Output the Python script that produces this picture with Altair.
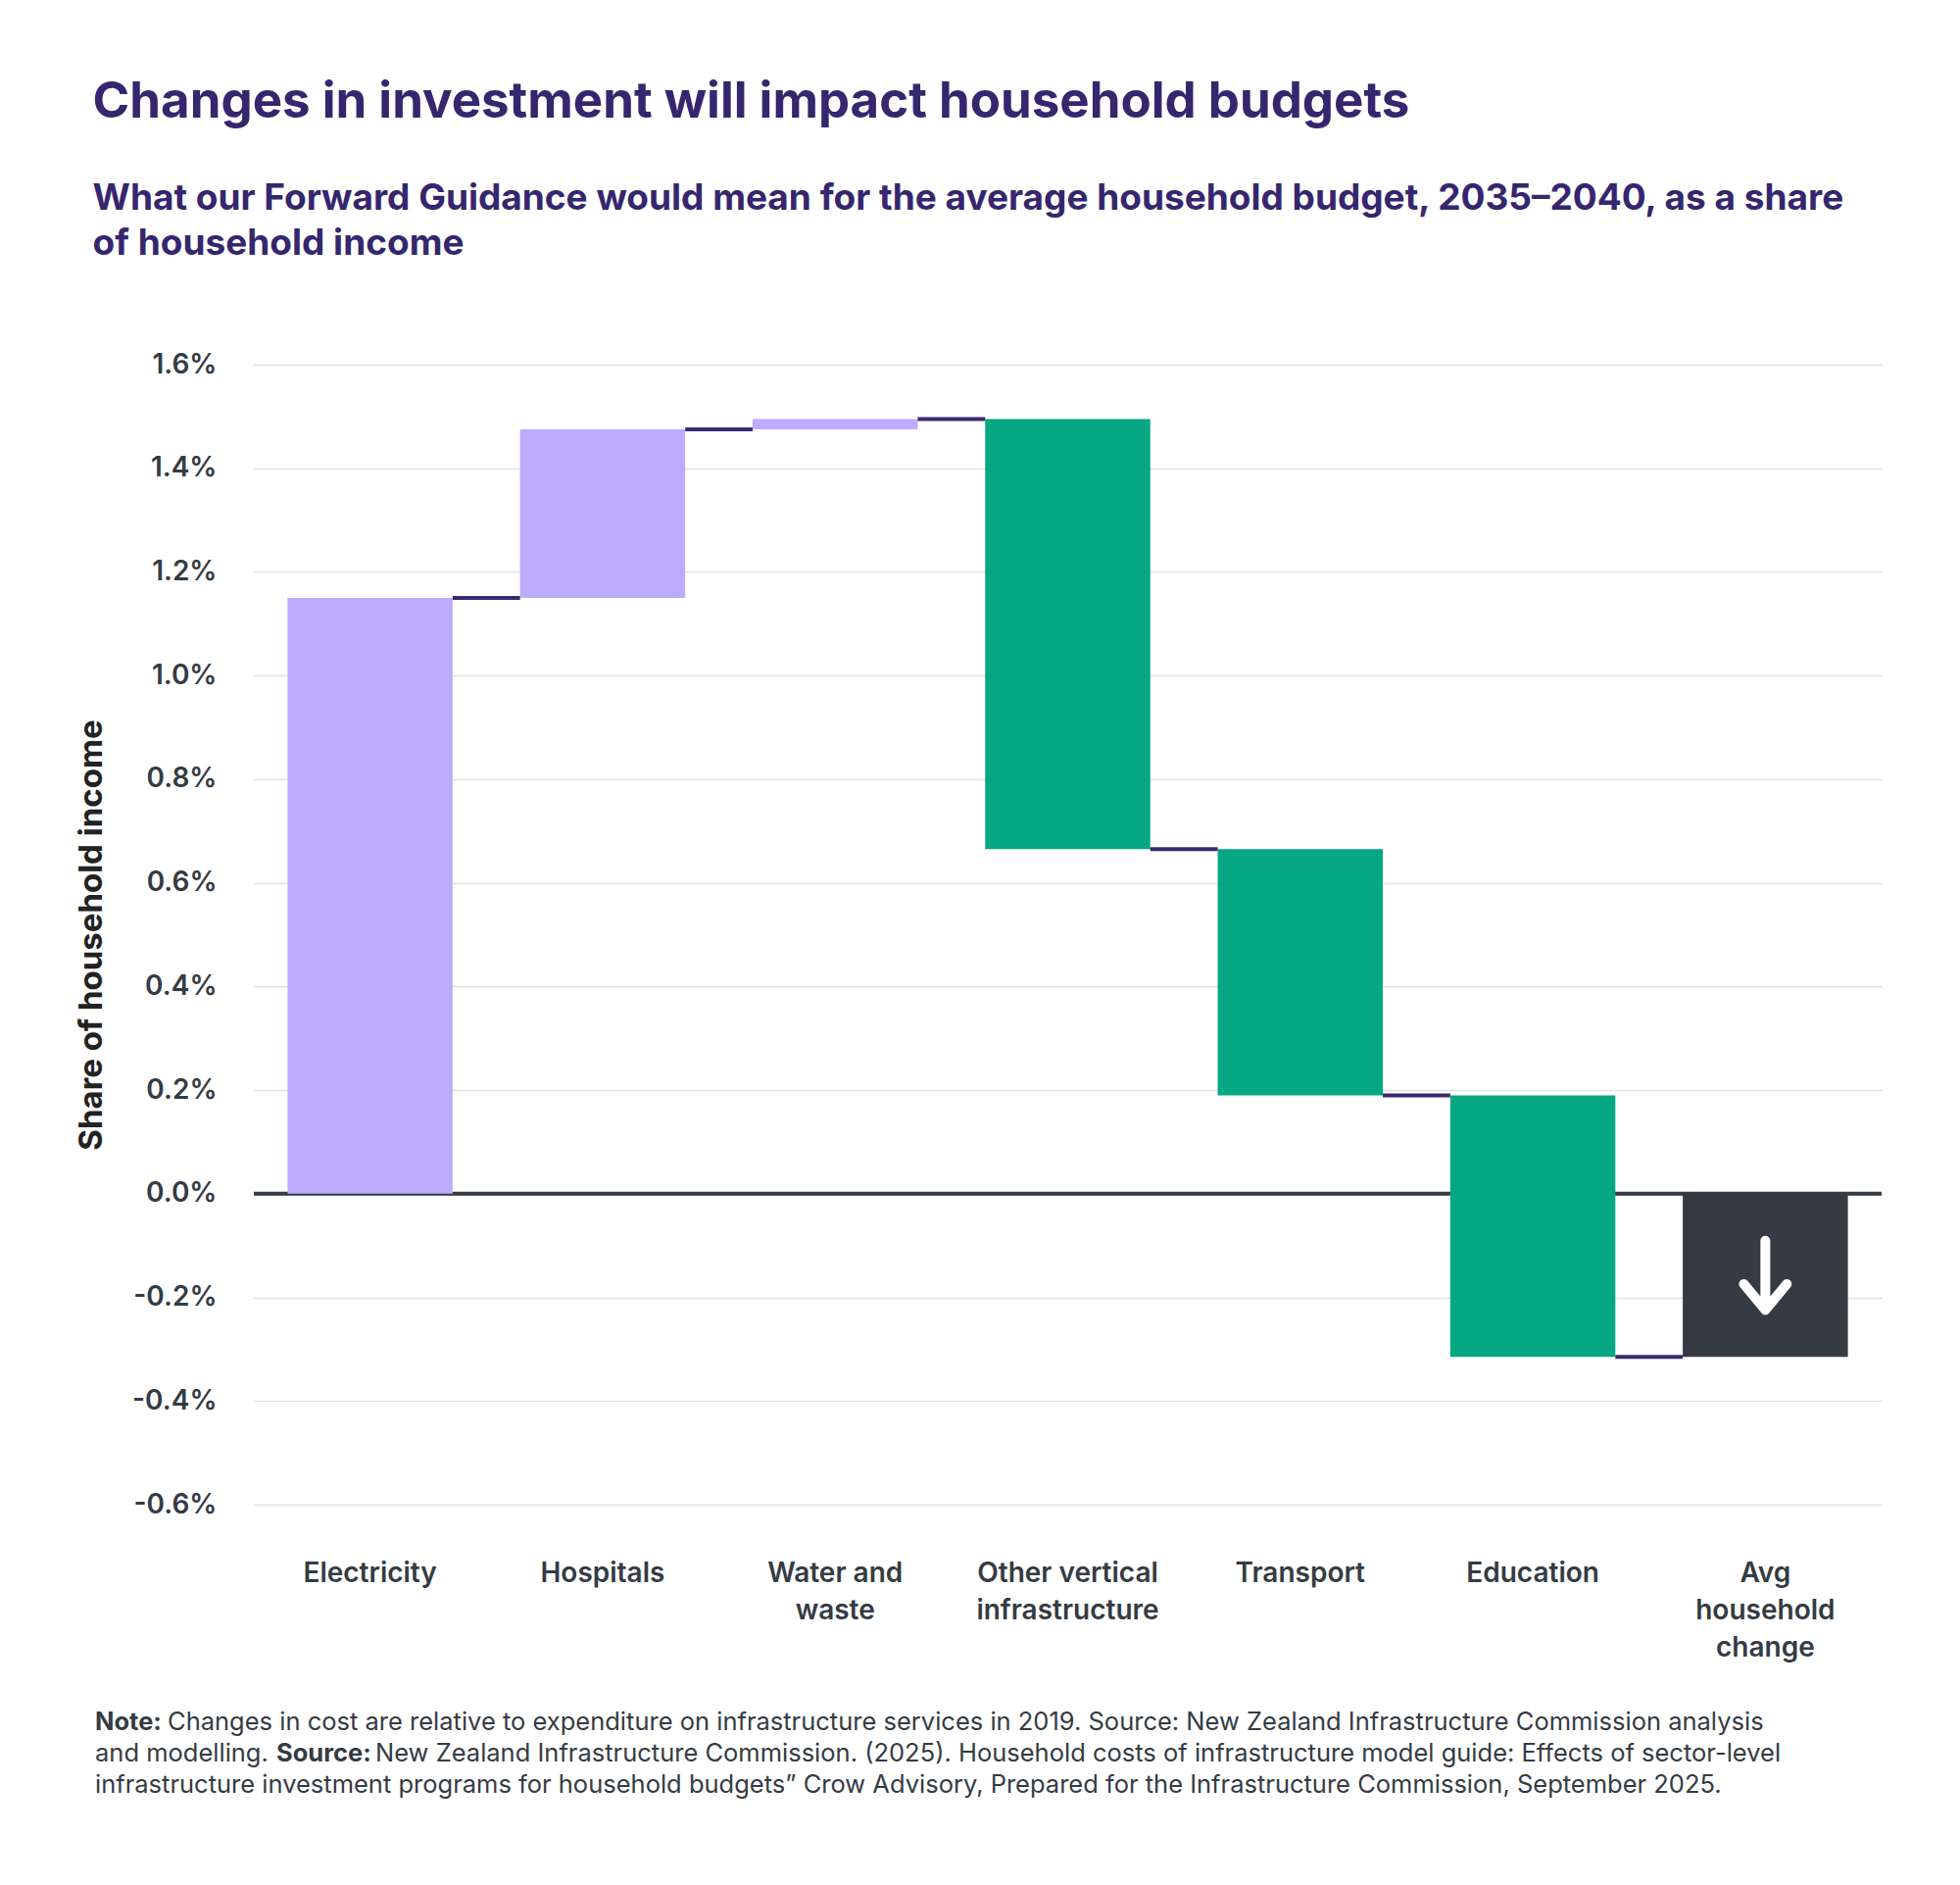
import altair as alt
import pandas as pd

# ---------------- data ----------------
categories = ["Electricity", "Hospitals", "Water and waste",
              "Other vertical infrastructure", "Transport", "Education",
              "Avg household change"]
label_lines = [["Electricity"], ["Hospitals"], ["Water and", "waste"],
               ["Other vertical", "infrastructure"], ["Transport"],
               ["Education"], ["Avg", "household", "change"]]
changes = [1.15, 0.325, 0.02, -0.83, -0.475, -0.505]   # % of household income
kinds = ["increase", "increase", "increase", "decrease", "decrease",
         "decrease", "total"]
y_ticks = [-0.6, -0.4, -0.2, 0.0, 0.2, 0.4, 0.6, 0.8, 1.0, 1.2, 1.4, 1.6]

title_text = "Changes in investment will impact household budgets"
subtitle_lines = ["What our Forward Guidance would mean for the average household budget, 2035\u20132040, as a share",
                  "of household income"]
y_title = "Share of household income"
note_parts = [
    # (line, text, bold)
    (0, "Note:", True),
    (0, "Changes in cost are relative to expenditure on infrastructure services in 2019. Source: New Zealand Infrastructure Commission analysis", False),
    (1, "and modelling.", False),
    (1, "Source:", True),
    (1, "New Zealand Infrastructure Commission. (2025). Household costs of infrastructure model guide: Effects of sector-level", False),
    (2, "infrastructure investment programs for household budgets\u201d Crow Advisory, Prepared for the Infrastructure Commission, September 2025.", False),
]

# ---------------- derived tables ----------------
rows = []
cum = 0.0
for c, d, k in zip(categories[:-1], changes, kinds[:-1]):
    start = cum
    cum = round(cum + d, 6)
    rows.append({"cat": c, "start": start, "end": cum, "kind": k})
total = cum
rows.append({"cat": categories[-1], "start": 0.0, "end": total, "kind": "total"})
bars_df = pd.DataFrame(rows)

conn_df = pd.DataFrame([{"cat": categories[i], "next": categories[i + 1],
                         "level": rows[i]["end"]} for i in range(len(categories) - 1)])
arrow_df = pd.DataFrame([{"cat": categories[-1], "mid": total / 2}])

label_map = "{" + ",".join(
    "'" + c + "':[" + ",".join("'" + s + "'" for s in l) + "]"
    for c, l in zip(categories, label_lines)) + "}"

FONT = "Inter"
PURPLE_TXT = "#35266e"
DARK = "#343b43"

W, H = 1661, 1163

x_enc = alt.X("cat:N", sort=categories,
              scale=alt.Scale(paddingInner=0.29, paddingOuter=0.145),
              axis=alt.Axis(title=None, labelAngle=0, domain=False, ticks=False,
                            labelPadding=56, labelFontSize=28, labelFontWeight=600,
                            labelColor=DARK, labelFont=FONT, labelLineHeight=38,
                            labelLimit=0, labelExpr=label_map + "[datum.value]"))
y_scale = alt.Scale(domain=[-0.6, 1.6], nice=False, zero=False)

bars = alt.Chart(bars_df).mark_bar().encode(
    x=x_enc,
    y=alt.Y("start:Q", scale=y_scale,
            axis=alt.Axis(values=y_ticks, title=y_title, domain=False, ticks=False,
                          grid=True, gridColor="#dfe2e6", gridWidth=1.5,
                          labelExpr="replace(format(datum.value, '.1f'), '\u2212', '-') + '%'",
                          labelFontSize=28, labelFontWeight=600, labelColor=DARK,
                          labelFont=FONT, labelPadding=38,
                          titleFont=FONT, titleFontSize=33, titleFontWeight="bold",
                          titleColor="#222222", titlePadding=24)),
    y2="end:Q",
    color=alt.Color("kind:N", legend=None,
                    scale=alt.Scale(domain=["increase", "decrease", "total"],
                                    range=["#bdabfd", "#04a782", "#343b43"])),
)

zero = alt.Chart(pd.DataFrame({"v": [0.0]})).mark_rule(
    color=DARK, strokeWidth=4).encode(y=alt.Y("v:Q", scale=y_scale))

connectors = alt.Chart(conn_df).mark_rule(color="#3a2870", strokeWidth=4).encode(
    x=alt.X("cat:N", sort=categories, bandPosition=1),
    x2=alt.X2("next:N", bandPosition=0),
    y=alt.Y("level:Q", scale=y_scale),
)

arrow = alt.Chart(arrow_df).mark_point(
    shape="M0,-1L0,1M-0.62,0.25L0,1L0.62,0.25",
    filled=False, stroke="white", strokeWidth=10, strokeCap="round",
    strokeJoin="round", size=5000, opacity=1,
).encode(x=alt.X("cat:N", sort=categories), y=alt.Y("mid:Q", scale=y_scale))

note_df = pd.DataFrame([{"line": l, "text": t, "bold": b, "idx": i}
                        for i, (l, t, b) in enumerate(note_parts)])
note_x = [-162, -88, -162, 23, 124, -162]
note_layers = []
for i, (l, t, b) in enumerate(note_parts):
    note_layers.append(
        alt.Chart(note_df[note_df.idx == i]).mark_text(
            align="left", baseline="middle", font=FONT, fontSize=25.5,
            fontWeight="bold" if b else "normal", color=DARK,
        ).encode(text="text:N", x=alt.value(note_x[i]), y=alt.value(1385 + 32 * l))
    )

chart = alt.layer(zero, bars, connectors, arrow, *note_layers).properties(
    width=W, height=H,
    title=alt.TitleParams(
        text=title_text, subtitle=subtitle_lines, anchor="start", frame="bounds",
        font=FONT, fontSize=51, fontWeight="bold", color=PURPLE_TXT,
        subtitleFont=FONT, subtitleFontSize=37, subtitleFontWeight="bold",
        subtitleColor=PURPLE_TXT, subtitlePadding=54, subtitleLineHeight=46,
        offset=90, dx=17),
    padding={"left": 69, "top": 71, "right": 20, "bottom": 20},
).configure(background="white").configure_view(stroke=None)

chart.save("out.html", embed_options={"renderer": "svg", "actions": False})
